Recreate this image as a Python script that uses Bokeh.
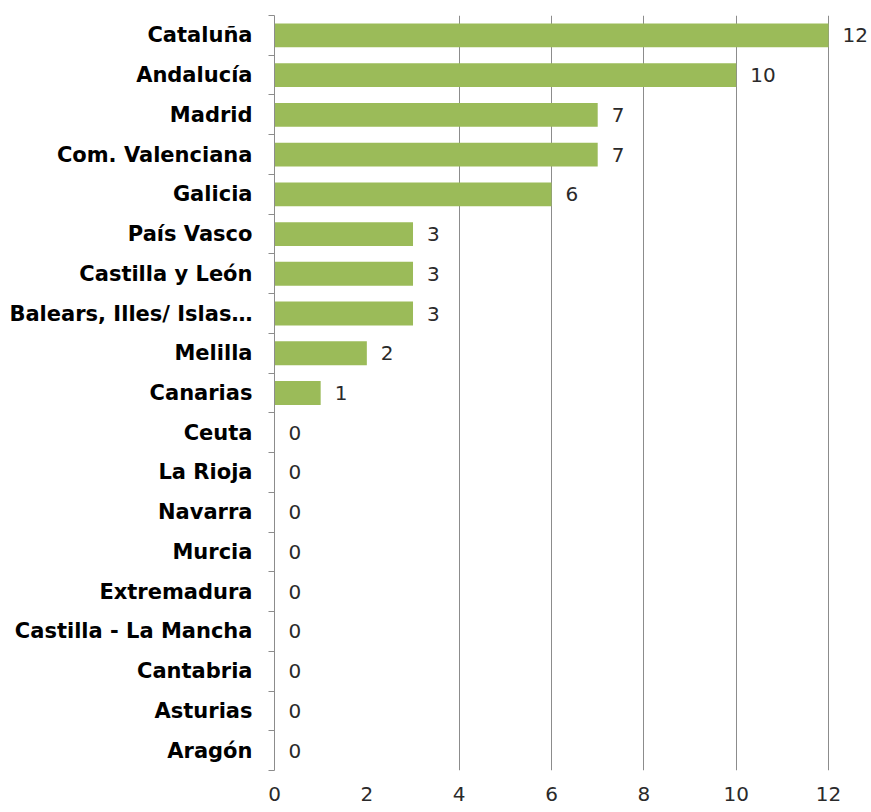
from bokeh.plotting import figure
from bokeh.models import ColumnDataSource, FixedTicker, Range1d
from bokeh.core.properties import value
from bokeh.embed import file_html
from bokeh.resources import INLINE

categories = ["Cataluña", "Andalucía", "Madrid", "Com. Valenciana", "Galicia",
              "País Vasco", "Castilla y León", "Balears, Illes/ Islas…", "Melilla",
              "Canarias", "Ceuta", "La Rioja", "Navarra", "Murcia", "Extremadura",
              "Castilla - La Mancha", "Cantabria", "Asturias", "Aragón"]
values = [12, 10, 7, 7, 6, 3, 3, 3, 2, 1, 0, 0, 0, 0, 0, 0, 0, 0, 0]
x_ticks = [0, 2, 4, 6, 8, 10, 12]
grid_ticks = [4, 6, 8, 10, 12]

n = len(categories)
ypos = [n - 1 - i for i in range(n)]
src = ColumnDataSource(dict(y=ypos, v=values, lab=[str(v) for v in values], cat=categories))

p = figure(width=871, height=806, output_backend="svg", toolbar_location=None,
           x_range=Range1d(0, 12.93), y_range=Range1d(-0.5, n - 0.5),
           min_border_left=274, min_border_right=0, min_border_top=15, min_border_bottom=36)
p.outline_line_color = None
p.background_fill_color = "white"

p.hbar(y="y", left=0, right="v", height=0.6, source=src, color="#9BBB59", line_color=None)
p.text(x="v", y="y", text="lab", source=src, x_offset=14, text_align="left",
       text_baseline="middle", text_font=value("DejaVu Sans"), text_font_size="20px",
       text_color="#2a2a2a")

# x axis
p.xaxis.ticker = FixedTicker(ticks=x_ticks)
p.xaxis.axis_line_color = None
p.xaxis.major_tick_line_color = None
p.xaxis.minor_tick_line_color = None
p.xaxis.major_label_standoff = 10
p.xaxis.major_label_text_font = "DejaVu Sans"
p.xaxis.major_label_text_font_size = "20px"
p.xaxis.major_label_text_font_style = "normal"
p.xaxis.major_label_text_color = "#2a2a2a"

p.xgrid.ticker = FixedTicker(ticks=grid_ticks)
p.xgrid.grid_line_color = "#8C8C8C"
p.ygrid.grid_line_color = None

# y axis: labels at centers, small ticks at category boundaries
p.yaxis.ticker = FixedTicker(ticks=ypos, minor_ticks=[i - 0.5 for i in range(n + 1)])
p.yaxis.major_label_overrides = {y: c for y, c in zip(ypos, categories)}
p.yaxis.major_tick_line_color = None
p.yaxis.major_tick_out = 0
p.yaxis.major_tick_in = 0
p.yaxis.minor_tick_out = 6
p.yaxis.minor_tick_in = 0
p.yaxis.minor_tick_line_color = "#8C8C8C"
p.yaxis.axis_line_color = "#8C8C8C"
p.yaxis.major_label_standoff = 16
p.yaxis.major_label_text_font = "DejaVu Sans"
p.yaxis.major_label_text_font_style = "bold"
p.yaxis.major_label_text_font_size = "21px"
p.yaxis.major_label_text_color = "#000000"

open("out.html", "w").write(file_html(p, INLINE))
